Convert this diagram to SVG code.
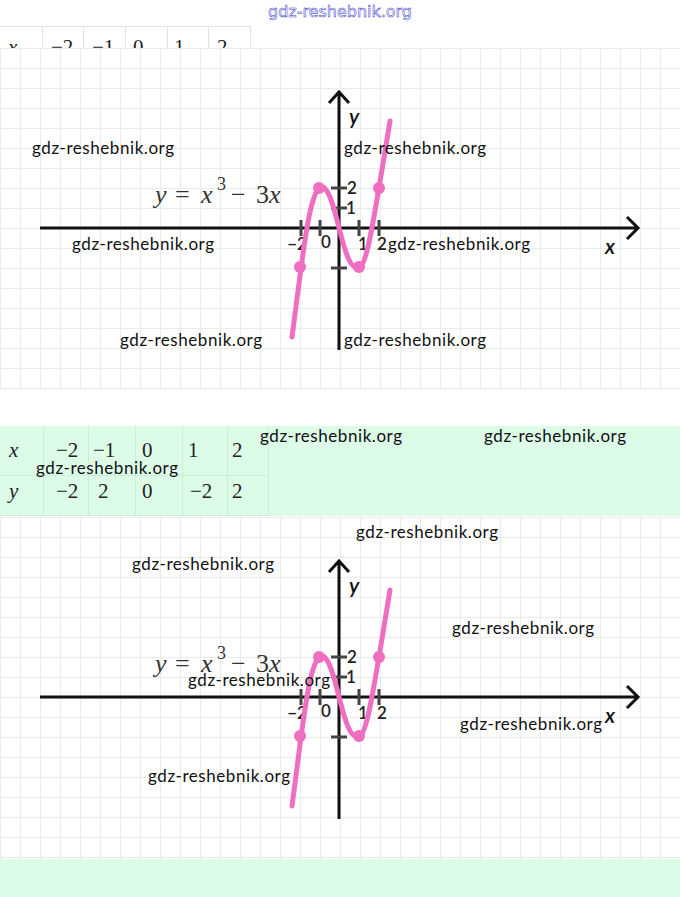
<svg xmlns="http://www.w3.org/2000/svg" xmlns:xlink="http://www.w3.org/1999/xlink" width="680" height="897" viewBox="0 0 680 897">
<style>
.wm{font-family:Lato,"Open Sans","Liberation Sans",sans-serif;font-size:17px;fill:#111}
.tbl{font-family:"Liberation Serif","DejaVu Serif",serif;font-size:21px;fill:#222}
.it{font-style:italic}
.tick{stroke:#444;stroke-width:3}
.lab{font-family:Lato,"Open Sans","Liberation Sans",sans-serif;font-size:17px;fill:#222;font-weight:600}
.ax{stroke:#111;stroke-width:3;fill:none}
.curve{stroke:#ef6ec1;stroke-width:5;fill:none;stroke-linejoin:round;stroke-linecap:round}
.dot{fill:#ef6ec1}
.form{font-family:"Liberation Serif",serif;font-size:26px;fill:#333}
.axl{font-family:Lato,"Open Sans","Liberation Sans",sans-serif;font-size:21px;font-style:italic;fill:#111;font-weight:600}
</style>
<defs>
<pattern id="gridp" x="0" y="8" width="20" height="20" patternUnits="userSpaceOnUse">
<path d="M0.5 0V20M0 0.5H20" stroke="#ebebeb" stroke-width="1" fill="none"/>
</pattern>
<g id="plot">
<rect x="0" y="48" width="680" height="342" fill="#fff"/>
<rect x="0" y="48" width="680" height="342" fill="url(#gridp)"/>
<g id="axes">
<path class="ax" d="M40 228H637M627 217L638 228L627 239"/>
<path class="ax" d="M339 350V92M329 103L339 92L349 103"/>
</g>
<g id="ticks">
<path class="tick" d="M301 220V236M320 220V236M359 220V236M379 220V236M331 188H347M331 208H347M331 268H347"/>
</g>
<g id="ticklabels" class="lab">
<text x="297" y="250" text-anchor="middle">−2</text>
<text x="326" y="248" text-anchor="middle">0</text>
<text x="363" y="250" text-anchor="middle">1</text>
<text x="382" y="250" text-anchor="middle">2</text>
<text x="352" y="194" text-anchor="middle">2</text>
<text x="351" y="214" text-anchor="middle">1</text>
</g>
<text class="axl" x="349" y="124">y</text>
<text class="axl" x="605" y="254">x</text>
<text class="form" y="203"><tspan x="155" class="it">y</tspan><tspan x="175">=</tspan><tspan x="201" class="it">x</tspan><tspan x="217" y="190" font-size="18">3</tspan><tspan x="231" y="203">−</tspan><tspan x="256">3</tspan><tspan x="269" class="it">x</tspan></text>
<g id="curve">
<path class="curve" d="M292 337L301 268C305 240 310 198 319 188C327 181 334 207 339 228C345 251 350 270 359 268C367 266 374 215 379 188L390 121"/>
<circle class="dot" cx="300" cy="267" r="6"/>
<circle class="dot" cx="319" cy="188" r="6"/>
<circle class="dot" cx="359" cy="267" r="6"/>
<circle class="dot" cx="379" cy="188" r="6"/>
</g>
</g>
</defs>
<rect width="680" height="897" fill="#fff"/>
<g id="table-top">
<path d="M0 26.5H250M42.5 26V48M83.5 26V48M125.5 26V48M167.5 26V48M208.5 26V48M250.5 26V48" stroke="#e2e2e2" stroke-width="1"/>
<g class="tbl">
<text x="8" y="54" class="it">x</text>
<text x="51" y="54">−2</text>
<text x="92" y="54">−1</text>
<text x="133" y="54">0</text>
<text x="174" y="54">1</text>
<text x="217" y="54">2</text>
</g>
</g>
<g id="graph-top"><use xlink:href="#plot"/></g>
<g id="table-mid">
<rect x="0" y="426" width="680" height="90" fill="#dcfce8"/>
<path d="M0 475.5H268M0 515.5H268M43.5 426V516M88.5 426V516M135.5 426V516M182.5 426V516M227.5 426V516M268.5 426V516" stroke="#c9efd6" stroke-width="1"/>
<g class="tbl">
<text x="9" y="457" class="it">x</text>
<text x="56" y="457">−2</text>
<text x="93" y="457">−1</text>
<text x="142" y="457">0</text>
<text x="188" y="457">1</text>
<text x="232" y="457">2</text>
<text x="9" y="498" class="it">y</text>
<text x="56" y="498">−2</text>
<text x="98" y="498">2</text>
<text x="142" y="498">0</text>
<text x="190" y="498">−2</text>
<text x="232" y="498">2</text>
</g>
</g>
<g id="graph-bottom"><use xlink:href="#plot" transform="translate(0 469)"/></g>
<rect id="band-bottom" x="0" y="859" width="680" height="38" fill="#dcfce8"/>
<g id="watermarks" class="wm">
<text x="32" y="154" textLength="142">gdz-reshebnik.org</text>
<text x="344" y="154" textLength="142">gdz-reshebnik.org</text>
<text x="72" y="250" textLength="142">gdz-reshebnik.org</text>
<text x="388" y="250" textLength="142">gdz-reshebnik.org</text>
<text x="120" y="346" textLength="142">gdz-reshebnik.org</text>
<text x="344" y="346" textLength="142">gdz-reshebnik.org</text>
<text x="260" y="442" textLength="142">gdz-reshebnik.org</text>
<text x="484" y="442" textLength="142">gdz-reshebnik.org</text>
<text x="36" y="474" textLength="142">gdz-reshebnik.org</text>
<text x="356" y="538" textLength="142">gdz-reshebnik.org</text>
<text x="132" y="570" textLength="142">gdz-reshebnik.org</text>
<text x="452" y="634" textLength="142">gdz-reshebnik.org</text>
<text x="188" y="686" textLength="142">gdz-reshebnik.org</text>
<text x="460" y="730" textLength="142">gdz-reshebnik.org</text>
<text x="148" y="782" textLength="142">gdz-reshebnik.org</text>
</g>
<text id="wm-top" x="268" y="17" textLength="144" font-family="'DejaVu Sans',sans-serif" font-size="16" fill="#fff" stroke="#3636cc" stroke-width="0.5">gdz-reshebnik.org</text>
</svg>
